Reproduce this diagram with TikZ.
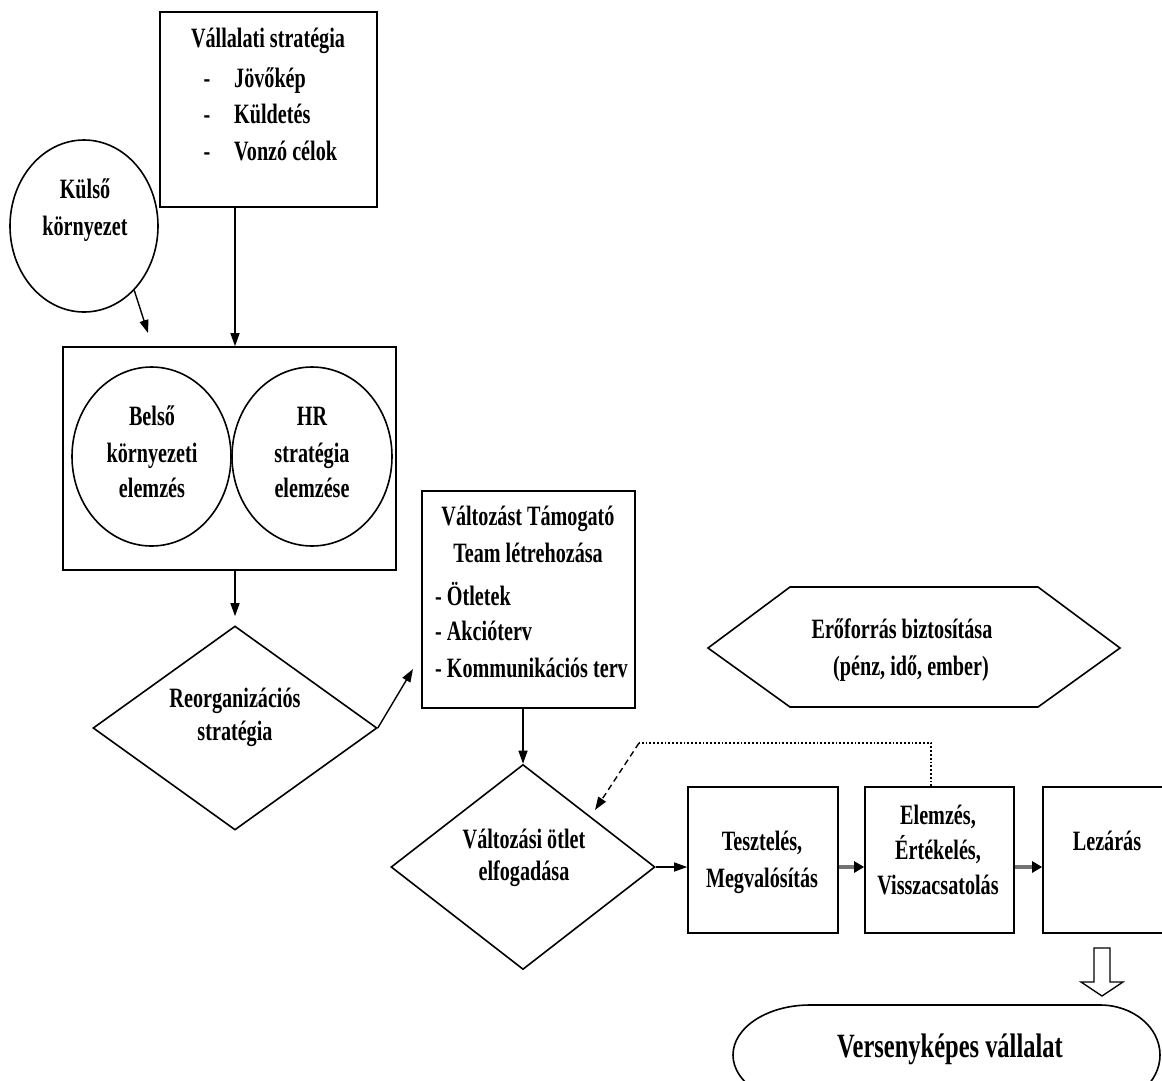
\documentclass[tikz,border=0pt]{standalone}
\usepackage{fontspec}
\setmainfont{Liberation Serif}[FakeStretch=0.72]
\usetikzlibrary{arrows.meta,shapes.geometric}
\tikzset{
  txt/.style={inner sep=0pt,font=\fontsize{28}{37}\selectfont\bfseries},
  bigtxt/.style={inner sep=0pt,font=\fontsize{34}{40}\selectfont\bfseries},
  boxs/.style={draw,line width=1.6pt,rectangle,inner sep=0pt},
  circs/.style={draw,line width=1.6pt,ellipse,inner sep=0pt},
  dias/.style={draw,line width=1.6pt,diamond,inner sep=0pt},
  arr/.style={line width=1.4pt,-{Triangle[length=13pt,width=9pt]}},
  garr/.style={line width=3.2pt,draw=black!55,-{Triangle[length=10pt,width=11pt,color=black]}},
}
\begin{document}
\begin{tikzpicture}[x=1pt,y=-1pt]
\useasboundingbox (0,0) rectangle (1162,1080);
\clip (0,0) rectangle (1162,1080);
\fill[white] (0,0) rectangle (1162,1080);

% top box
\node[boxs,minimum width=217pt,minimum height=195pt] (strat) at (268.5,109.5) {};
\node[txt,anchor=base] (strat-t) at (268,47) {Vállalati stratégia};
\node[txt,anchor=base] (d1) at (207,87) {-};
\node[txt,anchor=base] (d2) at (207,123) {-};
\node[txt,anchor=base] (d3) at (207,160) {-};
\node[txt,anchor=base west] (i1) at (234,87) {Jövőkép};
\node[txt,anchor=base west] (i2) at (234,123) {Küldetés};
\node[txt,anchor=base west] (i3) at (234,160) {Vonzó célok};

% external environment
\node[circs,minimum width=148pt,minimum height=172pt] (kulso) at (84,226) {};
\node[txt,anchor=base] (kulso-t1) at (85,198) {Külső};
\node[txt,anchor=base] (kulso-t2) at (85,235) {környezet};

% big box with circles
\node[boxs,minimum width=333pt,minimum height=223pt] (bigbox) at (229.5,458.5) {};
\node[circs,minimum width=159pt,minimum height=179pt] (belso) at (151.5,456.5) {};
\node[circs,minimum width=160pt,minimum height=179pt] (hr) at (312,456.5) {};
\node[txt,anchor=base] (belso-t1) at (152,425) {Belső};
\node[txt,anchor=base] (belso-t2) at (152,462) {környezeti};
\node[txt,anchor=base] (belso-t3) at (152,497) {elemzés};
\node[txt,anchor=base] (hr-t1) at (312,425) {HR};
\node[txt,anchor=base] (hr-t2) at (312,462) {stratégia};
\node[txt,anchor=base] (hr-t3) at (312,497) {elemzése};

% reorganisation diamond
\node[dias,minimum width=284pt,minimum height=204pt] (reorg) at (235,728) {};
\node[txt,anchor=base] (reorg-t1) at (235,707) {Reorganizációs};
\node[txt,anchor=base] (reorg-t2) at (235,740) {stratégia};

% team box
\node[boxs,minimum width=213pt,minimum height=217pt] (team) at (528.5,599.5) {};
\node[txt,anchor=base] (team-t1) at (528,525) {Változást Támogató};
\node[txt,anchor=base] (team-t2) at (528,562) {Team létrehozása};
\node[txt,anchor=base west] (team-t3) at (435,605) {- Ötletek};
\node[txt,anchor=base west] (team-t4) at (435,640) {- Akcióterv};
\node[txt,anchor=base west] (team-t5) at (435,677) {- Kommunikációs terv};

% acceptance diamond
\node[dias,minimum width=264pt,minimum height=205pt] (valt) at (523,867) {};
\node[txt,anchor=base] (valt-t1) at (524,848) {Változási ötlet};
\node[txt,anchor=base] (valt-t2) at (524,880) {elfogadása};

% process boxes
\node[boxs,minimum width=150pt,minimum height=146pt] (teszt) at (763,860) {};
\node[txt,anchor=base] (teszt-t1) at (762,850) {Tesztelés,};
\node[txt,anchor=base] (teszt-t2) at (762,887) {Megvalósítás};
\node[boxs,minimum width=149pt,minimum height=146pt] (elem) at (939.5,860) {};
\node[txt,anchor=base] (elem-t1) at (938,824) {Elemzés,};
\node[txt,anchor=base] (elem-t2) at (938,859) {Értékelés,};
\node[txt,anchor=base] (elem-t3) at (938,894) {Visszacsatolás};
\node[boxs,minimum width=128pt,minimum height=146pt] (lez) at (1107,860) {};
\node[txt,anchor=base] (lez-t) at (1107,850) {Lezárás};

% resources hexagon
\draw[line width=1.6pt] (708,648) -- (790,587) -- (1038,587) -- (1120,648) -- (1038,707) -- (790,707) -- cycle;
\node[txt,anchor=base] (res-t1) at (902,638) {Erőforrás biztosítása};
\node[txt,anchor=base] (res-t2) at (911,675) {(pénz, idő, ember)};

% competitive company
\draw[line width=1.6pt] (810,1005) -- (1100,1005)
  arc[start angle=-90,end angle=90,x radius=60,y radius=50] -- (810,1105)
  arc[start angle=90,end angle=270,x radius=77,y radius=50] -- cycle;
\node[bigtxt,anchor=base] (verseny) at (950,1057) {Versenyképes vállalat};

% hollow arrow
\draw[line width=1.3pt,fill=white] (1094,948) -- (1110,948) -- (1110,982) -- (1123,982)
  -- (1102,996) -- (1081,982) -- (1094,982) -- cycle;

% connectors
\coordinate (kend) at (148,333);
\coordinate (xa) at (235,0);
\coordinate (rend) at (413,669);
\coordinate (xb) at (523,0);
\coordinate (ay) at (0,867);
\coordinate (fb1) at (931,743);
\coordinate (fb2) at (639,743);
\coordinate (fbend) at (595,810);

\draw[arr] (kulso.-52) -- (kend);
\draw[arr] (strat.south -| xa) -- (bigbox.north -| xa);
\draw[arr,shorten >=9pt] (bigbox.south -| xa) -- (reorg.north);
\draw[arr] (reorg.east) -- (rend);
\draw[arr] (team.south -| xb) -- (valt.north);
\draw[arr] (valt.east) -- (valt.east -| teszt.west);
\draw[garr] (teszt.east |- ay) -- (elem.west |- ay);
\draw[garr] (elem.east |- ay) -- (lez.west |- ay);
\draw[line width=1.8pt,dotted] (elem.north -| fb1) -- (fb1) -- (fb2);
\draw[line width=1.4pt,dash pattern=on 6pt off 4pt,-{Triangle[length=13pt,width=9pt]}] (fb2) -- (fbend);
\end{tikzpicture}
\end{document}
